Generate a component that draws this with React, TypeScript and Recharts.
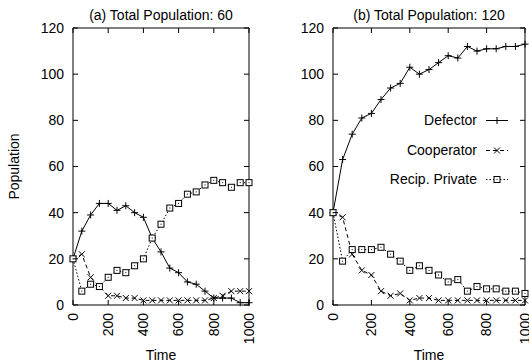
import React from 'react';
import { LineChart, Line, XAxis, YAxis, Legend } from 'recharts';

const time = [0, 50, 100, 150, 200, 250, 300, 350, 400, 450, 500, 550, 600, 650, 700, 750, 800, 850, 900, 950, 1000];

const defectorA = [20, 32, 39, 44, 44, 41, 43, 40, 38, 29, 23, 16, 14, 10, 9, 6, 3, 3, 3, 1, 1];
const cooperatorA = [20, 22, 12, 8, 4, 4, 3, 3, 2, 2, 2, 2, 2, 2, 2, 2, 3, 4, 6, 6, 6];
const recipA = [20, 6, 9, 8, 12, 15, 14, 17, 20, 29, 35, 42, 44, 48, 49, 52, 54, 53, 51, 53, 53];

const defectorB = [40, 63, 74, 81, 83, 89, 94, 96, 103, 100, 102, 105, 108, 107, 112, 110, 111, 111, 112, 112, 113];
const cooperatorB = [40, 38, 22, 15, 13, 6, 4, 5, 2, 3, 3, 2, 2, 2, 2, 2, 2, 2, 2, 2, 2];
const recipB = [40, 19, 24, 24, 24, 25, 22, 19, 15, 17, 15, 13, 10, 11, 6, 8, 7, 7, 6, 6, 5];

const xTicks = [0, 200, 400, 600, 800, 1000];
const yTicks = [0, 20, 40, 60, 80, 100, 120];

const seriesNames = ['Defector', 'Cooperator', 'Recip. Private'];
const titles = ['(a) Total Population: 60', '(b) Total Population: 120'];

const FONT = '"Liberation Sans", Arial, Helvetica, sans-serif';
const FS = 14;
const TL = 5;

type Kind = 'plus' | 'cross' | 'square';
const styleOf: Record<string, { kind: Kind; dash?: string }> = {
  Defector: { kind: 'plus' },
  Cooperator: { kind: 'cross', dash: '4 3' },
  'Recip. Private': { kind: 'square', dash: '1.5 2' },
};

function Marker({ kind, cx, cy }: { kind: Kind; cx: number; cy: number }) {
  if (kind === 'plus') {
    return <path d={`M${cx - 3.5},${cy}H${cx + 3.5}M${cx},${cy - 3.5}V${cy + 3.5}`} stroke="#000" strokeWidth={1} fill="none" />;
  }
  if (kind === 'cross') {
    return <path d={`M${cx - 3},${cy - 3}L${cx + 3},${cy + 3}M${cx - 3},${cy + 3}L${cx + 3},${cy - 3}`} stroke="#000" strokeWidth={1} fill="none" />;
  }
  return (
    <g>
      <rect x={cx - 3} y={cy - 3} width={6} height={6} stroke="#000" strokeWidth={1} fill="#fff" />
      <rect x={cx - 0.5} y={cy - 0.5} width={1} height={1} fill="#000" />
    </g>
  );
}

const makeDot = (kind: Kind) => (p: any) => {
  if (p.cx == null || p.cy == null) return <g key={p.index} />;
  return <Marker key={`${kind}-${p.index}`} kind={kind} cx={p.cx} cy={p.cy} />;
};

const BottomTick = (p: any) => {
  const { x, y, payload } = p;
  return (
    <g>
      <line x1={x} x2={x} y1={y} y2={y - TL} stroke="#000" />
      <text x={x} y={y + 8} dy="0.35em" textAnchor="end" transform={`rotate(-90 ${x} ${y + 8})`} fontFamily={FONT} fontSize={FS} fill="#000">
        {payload.value}
      </text>
    </g>
  );
};
const TopTick = (p: any) => {
  const { x, y } = p;
  return <line x1={x} x2={x} y1={y} y2={y + TL} stroke="#000" />;
};
const LeftTick = (p: any) => {
  const { x, y, payload } = p;
  return (
    <g>
      <line x1={x} x2={x + TL} y1={y} y2={y} stroke="#000" />
      <text x={x - 9} y={y} dy="0.35em" textAnchor="end" fontFamily={FONT} fontSize={FS} fill="#000">
        {payload.value}
      </text>
    </g>
  );
};
const RightTick = (p: any) => {
  const { x, y } = p;
  return <line x1={x} x2={x - TL} y1={y} y2={y} stroke="#000" />;
};

const LegendContent = () => {
  const rows = [120.5, 150.5, 179.5];
  return (
    <svg width={264} height={362} style={{ position: 'absolute', left: 0, top: 0, pointerEvents: 'none' }}>
      {seriesNames.map((n, i) => {
        const s = styleOf[n];
        const y = rows[i];
        return (
          <g key={n}>
            <text x={212} y={y} dy="0.35em" textAnchor="end" fontFamily={FONT} fontSize={FS} fill="#000">
              {n}
            </text>
            <line x1={221} x2={243} y1={y} y2={y} stroke="#000" strokeDasharray={s.dash} />
            <Marker kind={s.kind} cx={232} cy={y} />
          </g>
        );
      })}
    </svg>
  );
};

function Panel({
  idx, width, plotLeft, marginRight, d, c, r, left,
}: {
  idx: number; width: number; plotLeft: number; marginRight: number;
  d: number[]; c: number[]; r: number[]; left: number;
}) {
  const data = time.map((t, i) => ({ t, d: d[i], c: c[i], r: r[i] }));
  return (
    <div style={{ position: 'absolute', left, top: 0 }}>
      <LineChart width={width} height={362} data={data} margin={{ top: 27, right: marginRight - 1, bottom: 0, left: 0 }}>
        <XAxis
          dataKey="t" type="number" domain={[0, 1000]} ticks={xTicks} interval={0}
          height={57} tickSize={0} tickMargin={0} tickLine={false}
          axisLine={{ stroke: '#000' }} tick={<BottomTick />}
          label={(lp: any) => {
            const vb = lp.viewBox;
            return (
              <text x={vb.x + vb.width / 2} y={360} textAnchor="middle" fontFamily={FONT} fontSize={FS} fill="#000">
                Time
              </text>
            );
          }}
        />
        <XAxis
          xAxisId="top" orientation="top" dataKey="t" type="number" domain={[0, 1000]} ticks={xTicks} interval={0}
          height={1} tickSize={0} tickMargin={0} tickLine={false}
          axisLine={{ stroke: '#000' }} tick={<TopTick />}
          label={(lp: any) => {
            const vb = lp.viewBox;
            return (
              <text x={vb.x + vb.width / 2} y={19.5} textAnchor="middle" fontFamily={FONT} fontSize={FS} fill="#000">
                {titles[idx]}
              </text>
            );
          }}
        />
        <YAxis
          type="number" domain={[0, 120]} ticks={yTicks} interval={0} width={plotLeft}
          tickSize={0} tickMargin={0} tickLine={false} axisLine={{ stroke: '#000' }} tick={<LeftTick />}
          label={idx === 0 ? (lp: any) => {
            const vb = lp.viewBox;
            const cy = vb.y + vb.height / 2;
            return (
              <text x={14} y={cy} dy="0.35em" textAnchor="middle" transform={`rotate(-90 14 ${cy})`} fontFamily={FONT} fontSize={FS} fill="#000">
                Population
              </text>
            );
          } : undefined}
        />
        <YAxis
          yAxisId="right" orientation="right" type="number" domain={[0, 120]} ticks={yTicks} interval={0} width={1}
          tickSize={0} tickMargin={0} tickLine={false} axisLine={{ stroke: '#000' }} tick={<RightTick />}
        />
        <Line
          xAxisId="top" yAxisId="right" dataKey="d" stroke="none" dot={false} activeDot={false}
          legendType="none" isAnimationActive={false}
        />
        <Line name={seriesNames[0]} dataKey="d" stroke="#000" strokeWidth={1} dot={makeDot('plus')} isAnimationActive={false} />
        <Line name={seriesNames[1]} dataKey="c" stroke="#000" strokeWidth={1} strokeDasharray="4 3" dot={makeDot('cross')} isAnimationActive={false} />
        <Line name={seriesNames[2]} dataKey="r" stroke="#000" strokeWidth={1} strokeDasharray="1.5 2" dot={makeDot('square')} isAnimationActive={false} />
        {idx === 1 && (
          <Legend
            layout="vertical" align="center" verticalAlign="middle"
            content={<LegendContent />}
            wrapperStyle={{ position: 'absolute', left: 0, top: 0, width: 264, height: 362, pointerEvents: 'none' }}
          />
        )}
      </LineChart>
    </div>
  );
}

export default function App() {
  return (
    <div style={{ position: 'absolute', left: 0, top: 0, width: 529, height: 362, background: '#fff', overflow: 'hidden' }}>
      <Panel idx={0} left={0} width={265} plotLeft={73} marginRight={16} d={defectorA} c={cooperatorA} r={recipA} />
      <Panel idx={1} left={265} width={264} plotLeft={68} marginRight={4} d={defectorB} c={cooperatorB} r={recipB} />
    </div>
  );
}
